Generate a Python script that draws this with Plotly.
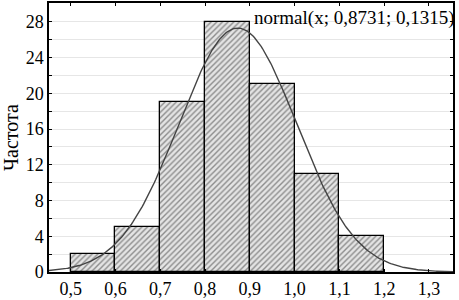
import numpy as np
import plotly.graph_objects as go

bin_left = [0.5, 0.6, 0.7, 0.8, 0.9, 1.0, 1.1]
counts = [2, 5, 19, 28, 21, 11, 4]
bin_width = 0.1
mu = 0.8731
sigma = 0.1315
x_ticks = [0.5, 0.6, 0.7, 0.8, 0.9, 1.0, 1.1, 1.2, 1.3]
x_tick_labels = ["0,5", "0,6", "0,7", "0,8", "0,9", "1,0", "1,1", "1,2", "1,3"]
y_ticks = [0, 4, 8, 12, 16, 20, 24, 28]

SERIF = "Liberation Serif, Times New Roman, serif"

centers = [b + bin_width / 2 for b in bin_left]
n_total = sum(counts)
xs = np.linspace(0.4516, 1.3536, 300)
ys = n_total * bin_width / (sigma * np.sqrt(2 * np.pi)) * np.exp(-0.5 * ((xs - mu) / sigma) ** 2)

fig = go.Figure()
fig.add_trace(go.Bar(
    x=centers, y=counts, width=bin_width,
    marker=dict(
        color="#d9d9d9",
        line=dict(color="black", width=1.3),
        pattern=dict(shape="/", fgcolor="#333333", bgcolor="#e4e4e4", size=4, solidity=0.35),
    ),
    showlegend=False,
))
fig.add_trace(go.Scatter(
    x=xs, y=ys, mode="lines",
    line=dict(color="#444444", width=1.4),
    showlegend=False,
))

fig.add_annotation(
    x=0.503, y=0.945, xref="paper", yref="paper",
    xanchor="left", yanchor="middle",
    text="normal(x; 0,8731; 0,1315)", showarrow=False,
    font=dict(family=SERIF, size=19, color="black"),
)

fig.update_layout(
    width=459, height=300,
    margin=dict(l=49, r=6, t=1, b=26),
    paper_bgcolor="white", plot_bgcolor="white",
    bargap=0,
    font=dict(family=SERIF, size=16, color="black"),
)
fig.update_xaxes(
    range=[0.4516, 1.3536],
    tickvals=x_ticks, ticktext=x_tick_labels,
    showgrid=False, zeroline=False,
    showline=True, linecolor="black", linewidth=1.5, mirror="ticks",
    ticks="inside", ticklen=3, tickcolor="black",
    tickfont=dict(family=SERIF, size=18),
)
fig.update_yaxes(
    range=[0, 30.1],
    tickvals=y_ticks,
    showgrid=True, gridcolor="#e6e6e6", gridwidth=1,
    minor=dict(dtick=2, showgrid=True, gridcolor="#e6e6e6", ticks="inside", ticklen=3, tickcolor="black"),
    zeroline=False,
    showline=True, linecolor="black", linewidth=1.5, mirror="ticks",
    ticks="inside", ticklen=3, tickcolor="black",
    tickfont=dict(family=SERIF, size=18),
    title=dict(text="Частота", font=dict(family=SERIF, size=20), standoff=6),
)

fig.write_html("out.html", config={"displayModeBar": False},
               post_script="document.body.style.margin='0';")
